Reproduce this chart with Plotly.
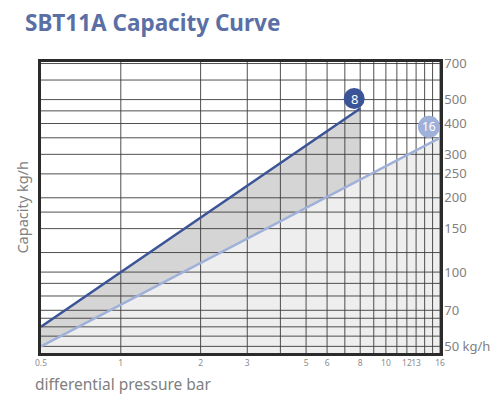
import numpy as np
import plotly.graph_objects as go

title = "SBT11A Capacity Curve"

# x axis: differential pressure (bar)
pressure_ticks = [0.5, 1, 2, 3, 5, 6, 8, 10, 12, 13, 16]
pressure_grid = list(range(1, 17))

# y axis: capacity (kg/h)
capacity_ticks = [50, 70, 100, 150, 200, 250, 300, 400, 500, 700]
capacity_labels = ["50 kg/h", "70", "100", "150", "200", "250", "300", "400", "500", "700"]
capacity_grid = [50, 55, 60, 65, 70, 80, 90, 100, 120, 150, 175, 200, 250, 300, 350, 400, 450, 500, 600, 700]

# capacity curves (label -> pressure, capacity)
curve8_dp = [0.5, 8]
curve8_cap = [60, 460]
curve16_dp = [0.5, 16]
curve16_cap = [50, 350]

x_range = [0.5, 16]
y_range = [47, 710]

dark_blue = "#3b5498"
light_blue = "#9fb0d9"

fig = go.Figure()

# shaded areas under the curves
fig.add_trace(go.Scatter(
    x=curve8_dp + [curve8_dp[-1], curve8_dp[0]],
    y=curve8_cap + [y_range[0], y_range[0]],
    fill="toself", fillcolor="#d5d5d5", mode="lines", line_width=0,
    hoverinfo="skip"))
fig.add_trace(go.Scatter(
    x=curve16_dp + [curve16_dp[-1], curve16_dp[0]],
    y=curve16_cap + [y_range[0], y_range[0]],
    fill="toself", fillcolor="#eeeeee", mode="lines", line_width=0,
    hoverinfo="skip"))

# grid drawn on top of the shading
gx, gy = [], []
for v in pressure_grid:
    gx += [v, v, None]
    gy += [y_range[0], y_range[1], None]
for v in capacity_grid:
    gx += [x_range[0], x_range[1], None]
    gy += [v, v, None]
fig.add_trace(go.Scatter(x=gx, y=gy, mode="lines",
                         line=dict(color="#3c3c3c", width=0.9), hoverinfo="skip"))

fig.add_trace(go.Scatter(x=curve16_dp, y=curve16_cap, mode="lines",
                         line=dict(color=light_blue, width=2.5), name="16"))
fig.add_trace(go.Scatter(x=curve8_dp, y=curve8_cap, mode="lines",
                         line=dict(color=dark_blue, width=2.5), name="8"))


def frac(v, rng):
    lo, hi = np.log10(rng[0]), np.log10(rng[1])
    return (np.log10(v) - lo) / (hi - lo)


# numbered badges at the curve ends
badges = [("8", curve8_dp[-1], curve8_cap[-1], dark_blue, -6, 10, 10.5, 13),
          ("16", curve16_dp[-1], curve16_cap[-1], light_blue, -11, 11, 11, 12)]
for txt, xe, ye, col, dx, dy, r, fs in badges:
    fig.add_shape(type="circle", xref="x domain", yref="y domain",
                  xsizemode="pixel", ysizemode="pixel",
                  xanchor=frac(xe, x_range), yanchor=frac(ye, y_range),
                  x0=dx - r, x1=dx + r, y0=dy - r, y1=dy + r,
                  fillcolor=col, line_width=0, layer="above")
    fig.add_annotation(x=np.log10(xe), y=np.log10(ye), xref="x", yref="y",
                       text=txt, showarrow=False, xshift=dx, yshift=dy,
                       font=dict(color="white", size=fs))

fig.add_annotation(text="Capacity kg/h", xref="paper", yref="paper",
                   x=-0.05, y=0.5, textangle=-90, showarrow=False,
                   xanchor="center", yanchor="middle",
                   font=dict(size=14.5, color="#808080"))
fig.add_annotation(text="differential pressure bar", xref="paper", yref="paper",
                   x=-0.02, y=-0.105, showarrow=False, xanchor="left", yanchor="middle",
                   font=dict(size=15.5, color="#808080"))

fig.update_layout(
    width=500, height=400,
    margin=dict(l=33, r=68, t=54, b=55),
    paper_bgcolor="white", plot_bgcolor="white",
    showlegend=False,
    font=dict(family="Noto Sans"),
    title=dict(text=title, x=17 / 500, xanchor="left", y=0.962, yanchor="middle",
               font=dict(size=22.5, color="#5a6fa5", weight="bold")),
    xaxis=dict(type="log", range=list(np.log10(x_range)),
               tickvals=pressure_ticks, ticktext=[str(v) for v in pressure_ticks],
               tickfont=dict(size=8.5, color="#8c8c8c"), ticks="", tickangle=0,
               showgrid=False, zeroline=False,
               showline=True, mirror=True, linecolor="#2b2b2b", linewidth=2.5),
    yaxis=dict(type="log", range=list(np.log10(y_range)), side="right",
               tickvals=capacity_ticks, ticktext=capacity_labels,
               tickfont=dict(size=13, color="#808080"), ticks="",
               ticklabelstandoff=-1,
               showgrid=False, zeroline=False,
               showline=True, mirror=True, linecolor="#2b2b2b", linewidth=2.5),
)

fig.write_html("out.html")
